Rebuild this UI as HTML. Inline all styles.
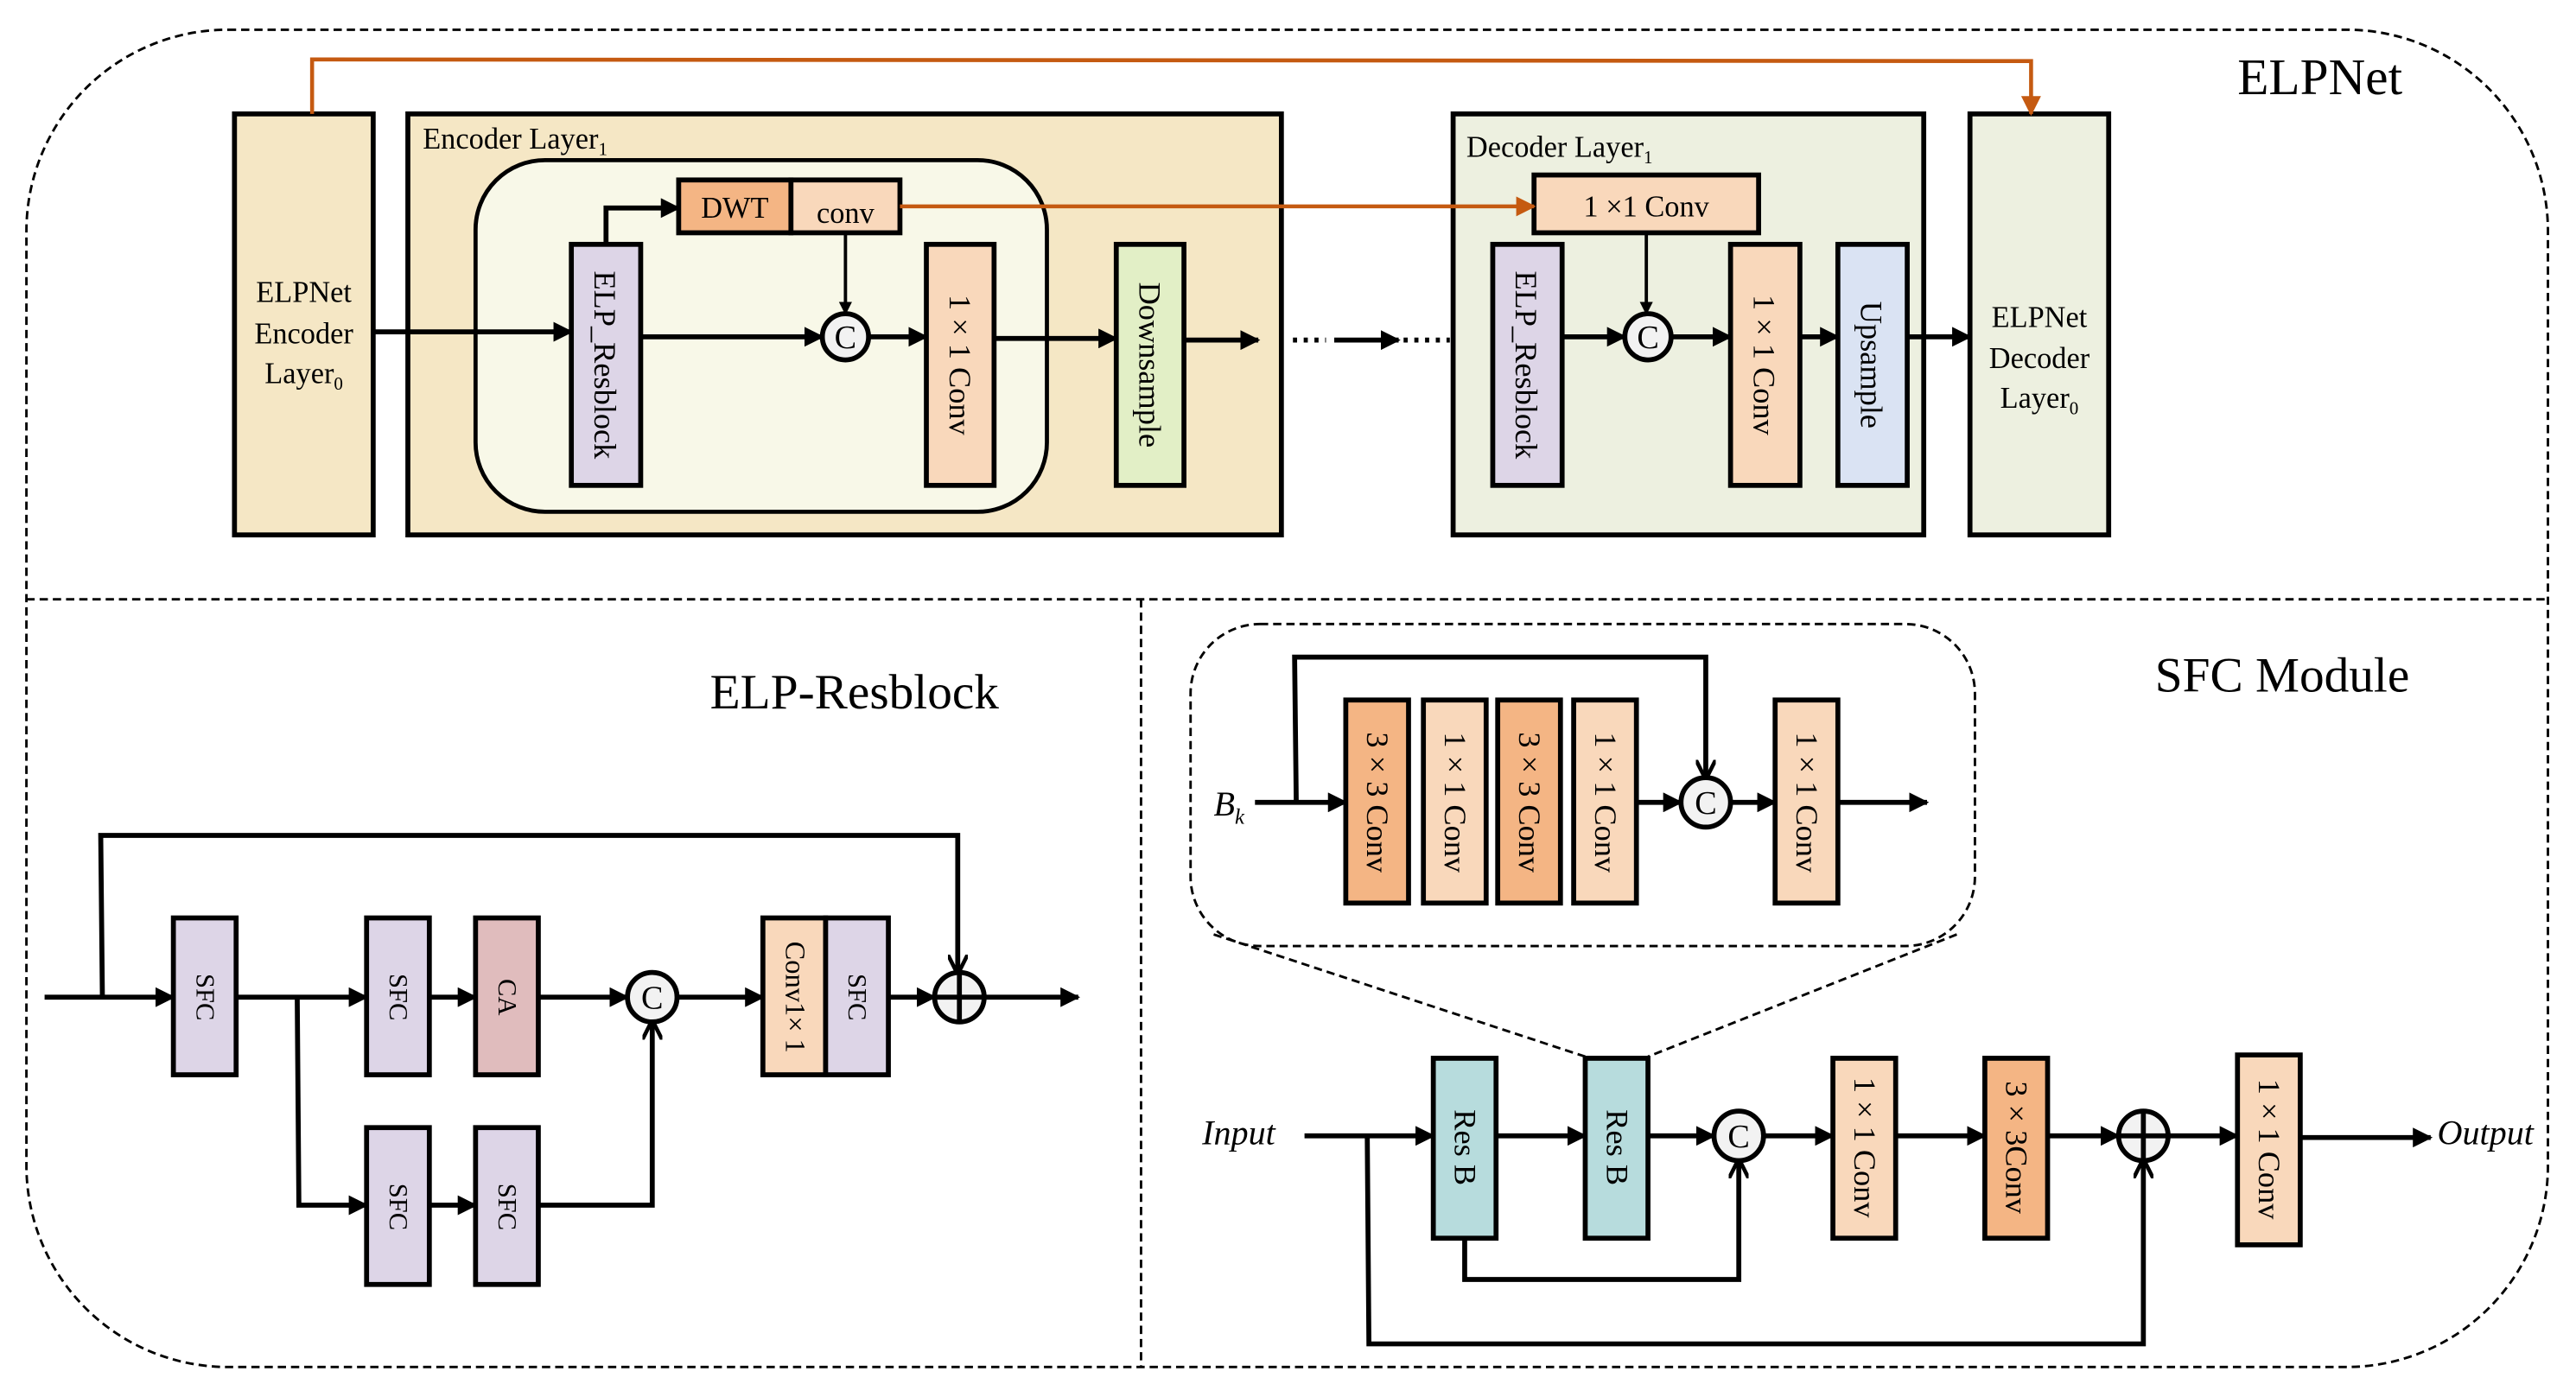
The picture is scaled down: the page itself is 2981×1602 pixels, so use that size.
<!DOCTYPE html>
<html><head><meta charset="utf-8"><style>
html,body{margin:0;padding:0;background:#fff;}
svg{display:block;}
text{font-family:"Liberation Serif",serif;fill:#000;}
</style></head><body>
<svg width="2981" height="1602" viewBox="0 0 1560 838.3" preserveAspectRatio="none" xmlns="http://www.w3.org/2000/svg">
<defs>
<marker id="a" viewBox="0 0 10 10" refX="9" refY="5" markerWidth="4" markerHeight="4" orient="auto" markerUnits="strokeWidth"><path d="M0,0 L10,5 L0,10 z" fill="#000"/></marker>
<marker id="o" viewBox="0 0 10 10" refX="9" refY="5" markerWidth="5" markerHeight="5" orient="auto" markerUnits="strokeWidth"><path d="M0,0 L10,5 L0,10 z" fill="#c55a11"/></marker>
<marker id="v" viewBox="0 0 10 10" refX="9" refY="5" markerWidth="4" markerHeight="4" orient="auto" markerUnits="strokeWidth"><path d="M0,0 L10,5 L0,10" fill="none" stroke="#000" stroke-width="2"/></marker>
</defs>

<rect x="16" y="18" width="1527" height="810" rx="122" ry="122" fill="none" stroke="#000" stroke-width="1.5" stroke-dasharray="5,3"/>
<line x1="16" y1="363" x2="1543" y2="363" stroke="#000" stroke-width="1.5" stroke-dasharray="5,3"/>
<line x1="691" y1="363" x2="691" y2="828" stroke="#000" stroke-width="1.5" stroke-dasharray="5,3"/>

<text x="1355" y="57" font-size="31">ELPNet</text>

<rect x="142" y="69" width="84" height="255" fill="#f5e7c5" stroke="#000" stroke-width="3"/>
<text x="184" y="183" font-size="18" text-anchor="middle">ELPNet</text>
<text x="184" y="208" font-size="18" text-anchor="middle">Encoder</text>
<text x="184" y="232" font-size="18" text-anchor="middle">Layer<tspan font-size="11" dy="4">0</tspan></text>

<rect x="247" y="69" width="529" height="255" fill="#f5e7c5" stroke="#000" stroke-width="3"/>
<text x="256" y="90" font-size="18">Encoder Layer<tspan font-size="11" dy="4">1</tspan></text>
<rect x="288" y="97" width="346" height="213" rx="42" fill="#f8f8e8" stroke="#000" stroke-width="2.5"/>
<rect x="411" y="109" width="68" height="32" fill="#f4b584" stroke="#000" stroke-width="3"/>
<rect x="479" y="109" width="66" height="32" fill="#f9d8bb" stroke="#000" stroke-width="3"/>
<text x="445" y="132" font-size="18" text-anchor="middle">DWT</text>
<text x="512" y="135" font-size="18" text-anchor="middle">conv</text>
<rect x="346" y="148" width="42" height="146" fill="#ddd5e7" stroke="#000" stroke-width="3"/>
<text transform="translate(360,221) rotate(90)" font-size="19" text-anchor="middle">ELP_Resblock</text>
<rect x="561" y="148" width="41" height="146" fill="#f9d8bb" stroke="#000" stroke-width="3"/>
<text transform="translate(575,221) rotate(90)" font-size="19" text-anchor="middle">1 × 1 Conv</text>
<rect x="676" y="148" width="41" height="146" fill="#e2efc6" stroke="#000" stroke-width="3"/>
<text transform="translate(690,221) rotate(90)" font-size="19" text-anchor="middle">Downsample</text>
<circle cx="512" cy="204" r="14" fill="#f2f2f2" stroke="#000" stroke-width="3"/>
<text x="512" y="211" font-size="20" text-anchor="middle">C</text>

<g stroke="#000" stroke-width="3" fill="none">
<line x1="226" y1="201" x2="346" y2="201" marker-end="url(#a)"/>
<line x1="388" y1="204" x2="498" y2="204" marker-end="url(#a)"/>
<line x1="526" y1="204" x2="561" y2="204" marker-end="url(#a)"/>
<line x1="602" y1="205" x2="676" y2="205" marker-end="url(#a)"/>
<line x1="717" y1="206" x2="762" y2="206" marker-end="url(#a)"/>
<polyline points="367,148 367,126 411,126" marker-end="url(#a)"/>
<line x1="512" y1="141" x2="512" y2="190" stroke-width="2" marker-end="url(#a)"/>
<line x1="783" y1="206" x2="803" y2="206" stroke-dasharray="2.5,4"/>
<line x1="808" y1="206" x2="847" y2="206" marker-end="url(#a)"/>
<line x1="850" y1="206" x2="878" y2="206" stroke-dasharray="2.5,4"/>
<line x1="880" y1="206" x2="904" y2="206" marker-end="url(#a)"/>
</g>

<rect x="880" y="69" width="285" height="255" fill="#edf0e0" stroke="#000" stroke-width="3"/>
<text x="888" y="95" font-size="18">Decoder Layer<tspan font-size="11" dy="4">1</tspan></text>
<rect x="929" y="106" width="136" height="35" fill="#f9d8bb" stroke="#000" stroke-width="3"/>
<text x="997" y="131" font-size="18" text-anchor="middle">1 ×1 Conv</text>
<rect x="904" y="148" width="42" height="146" fill="#ddd5e7" stroke="#000" stroke-width="3"/>
<text transform="translate(918,221) rotate(90)" font-size="19" text-anchor="middle">ELP_Resblock</text>
<rect x="1048" y="148" width="42" height="146" fill="#f9d8bb" stroke="#000" stroke-width="3"/>
<text transform="translate(1062,221) rotate(90)" font-size="19" text-anchor="middle">1 × 1 Conv</text>
<rect x="1113" y="148" width="42" height="146" fill="#dae3f3" stroke="#000" stroke-width="3"/>
<text transform="translate(1127,221) rotate(90)" font-size="19" text-anchor="middle">Upsample</text>
<circle cx="998" cy="204" r="14" fill="#f2f2f2" stroke="#000" stroke-width="3"/>
<text x="998" y="211" font-size="20" text-anchor="middle">C</text>
<rect x="1193" y="69" width="84" height="255" fill="#edf0e0" stroke="#000" stroke-width="3"/>
<text x="1235" y="198" font-size="18" text-anchor="middle">ELPNet</text>
<text x="1235" y="223" font-size="18" text-anchor="middle">Decoder</text>
<text x="1235" y="247" font-size="18" text-anchor="middle">Layer<tspan font-size="11" dy="4">0</tspan></text>
<g stroke="#000" stroke-width="3" fill="none">
<line x1="946" y1="204" x2="984" y2="204" marker-end="url(#a)"/>
<line x1="997" y1="141" x2="997" y2="190" stroke-width="2" marker-end="url(#a)"/>
<line x1="1012" y1="204" x2="1048" y2="204" marker-end="url(#a)"/>
<line x1="1090" y1="204" x2="1113" y2="204" marker-end="url(#a)"/>
<line x1="1155" y1="204" x2="1193" y2="204" marker-end="url(#a)"/>
</g>
<g stroke="#c55a11" stroke-width="2.4" fill="none">
<polyline points="189,69 189,36 1230,37 1230,69" marker-end="url(#o)"/>
<line x1="545" y1="125" x2="929" y2="125" marker-end="url(#o)"/>
</g>

<text x="430" y="429" font-size="30">ELP-Resblock</text>
<g stroke="#000" stroke-width="3" fill="none">
<line x1="27" y1="604" x2="105" y2="604" marker-end="url(#a)"/>
<polyline points="62,604 61,506 580,506 580,589" marker-end="url(#v)"/>
<line x1="143" y1="604" x2="222" y2="604" marker-end="url(#a)"/>
<polyline points="180,604 181,730 222,730" marker-end="url(#a)"/>
<line x1="260" y1="604" x2="288" y2="604" marker-end="url(#a)"/>
<line x1="326" y1="604" x2="380" y2="604" marker-end="url(#a)"/>
<line x1="410" y1="604" x2="462" y2="604" marker-end="url(#a)"/>
<line x1="260" y1="730" x2="288" y2="730" marker-end="url(#a)"/>
<polyline points="326,730 395,730 395,619" marker-end="url(#v)"/>
<line x1="538" y1="604" x2="566" y2="604" marker-end="url(#a)"/>
<line x1="596" y1="604" x2="653" y2="604" marker-end="url(#a)"/>
</g>
<g stroke="#000" stroke-width="3">
<rect x="105" y="556" width="38" height="95" fill="#ddd5e7"/>
<rect x="222" y="556" width="38" height="95" fill="#ddd5e7"/>
<rect x="288" y="556" width="38" height="95" fill="#e0bcbd"/>
<rect x="462" y="556" width="38" height="95" fill="#f9d8bb"/>
<rect x="500" y="556" width="38" height="95" fill="#ddd5e7"/>
<rect x="222" y="683" width="38" height="95" fill="#ddd5e7"/>
<rect x="288" y="683" width="38" height="95" fill="#ddd5e7"/>
<circle cx="395" cy="604" r="15" fill="#f2f2f2"/>
<circle cx="581" cy="604" r="15" fill="#f2f2f2"/>
<line x1="566" y1="604" x2="596" y2="604"/>
<line x1="581" y1="589" x2="581" y2="619"/>
</g>
<text x="395" y="611" font-size="20" text-anchor="middle">C</text>
<g font-size="16" text-anchor="middle">
<text transform="translate(119,604) rotate(90)">SFC</text>
<text transform="translate(236,604) rotate(90)">SFC</text>
<text transform="translate(302,604) rotate(90)">CA</text>
<text transform="translate(476,604) rotate(90)" font-size="17">Conv1× 1</text>
<text transform="translate(514,604) rotate(90)">SFC</text>
<text transform="translate(236,731) rotate(90)">SFC</text>
<text transform="translate(302,731) rotate(90)">SFC</text>
</g>

<text x="1305" y="419" font-size="30">SFC Module</text>
<rect x="721" y="378" width="475" height="195" rx="42" fill="none" stroke="#000" stroke-width="1.5" stroke-dasharray="5,3"/>
<line x1="735" y1="566" x2="960" y2="640" stroke="#000" stroke-width="1.5" stroke-dasharray="5,3"/>
<line x1="1185" y1="566" x2="998" y2="640" stroke="#000" stroke-width="1.5" stroke-dasharray="5,3"/>
<text x="735" y="494" font-size="21" font-style="italic">B<tspan font-size="13" dy="5">k</tspan></text>
<g stroke="#000" stroke-width="3" fill="none">
<line x1="760" y1="486" x2="815" y2="486" marker-end="url(#a)"/>
<polyline points="785,486 784,398 1033,398 1033,471" marker-end="url(#v)"/>
<line x1="991" y1="486" x2="1018" y2="486" marker-end="url(#a)"/>
<line x1="1048" y1="486" x2="1075" y2="486" marker-end="url(#a)"/>
<line x1="1113" y1="486" x2="1167" y2="486" marker-end="url(#a)"/>
</g>
<g stroke="#000" stroke-width="3">
<rect x="815" y="424" width="38" height="123" fill="#f4b584"/>
<rect x="862" y="424" width="38" height="123" fill="#f9d8bb"/>
<rect x="907" y="424" width="38" height="123" fill="#f4b584"/>
<rect x="953" y="424" width="38" height="123" fill="#f9d8bb"/>
<rect x="1075" y="424" width="38" height="123" fill="#f9d8bb"/>
<circle cx="1033" cy="486" r="15" fill="#f2f2f2"/>
</g>
<text x="1033" y="493" font-size="20" text-anchor="middle">C</text>
<g font-size="19" text-anchor="middle">
<text transform="translate(828,486) rotate(90)">3 × 3 Conv</text>
<text transform="translate(875,486) rotate(90)">1 × 1 Conv</text>
<text transform="translate(920,486) rotate(90)">3 × 3 Conv</text>
<text transform="translate(966,486) rotate(90)">1 × 1 Conv</text>
<text transform="translate(1088,486) rotate(90)">1 × 1 Conv</text>
</g>

<text x="728" y="693" font-size="21" font-style="italic">Input</text>
<text x="1476" y="693" font-size="21" font-style="italic">Output</text>
<g stroke="#000" stroke-width="3" fill="none">
<line x1="790" y1="688" x2="868" y2="688" marker-end="url(#a)"/>
<polyline points="828,688 829,814 1298,814 1298,703" marker-end="url(#v)"/>
<line x1="906" y1="688" x2="960" y2="688" marker-end="url(#a)"/>
<line x1="998" y1="688" x2="1038" y2="688" marker-end="url(#a)"/>
<polyline points="887,750 887,775 1053,775 1053,703" marker-end="url(#v)"/>
<line x1="1068" y1="688" x2="1110" y2="688" marker-end="url(#a)"/>
<line x1="1148" y1="688" x2="1202" y2="688" marker-end="url(#a)"/>
<line x1="1240" y1="688" x2="1283" y2="688" marker-end="url(#a)"/>
<line x1="1313" y1="688" x2="1355" y2="688" marker-end="url(#a)"/>
<line x1="1393" y1="689" x2="1472" y2="689" marker-end="url(#a)"/>
</g>
<g stroke="#000" stroke-width="3">
<rect x="868" y="641" width="38" height="109" fill="#b7dcdd"/>
<rect x="960" y="641" width="38" height="109" fill="#b7dcdd"/>
<rect x="1110" y="641" width="38" height="109" fill="#f9d8bb"/>
<rect x="1202" y="641" width="38" height="109" fill="#f4b584"/>
<rect x="1355" y="639" width="38" height="115" fill="#f9d8bb"/>
<circle cx="1053" cy="688" r="15" fill="#f2f2f2"/>
<circle cx="1298" cy="688" r="15" fill="#f2f2f2"/>
<line x1="1283" y1="688" x2="1313" y2="688"/>
<line x1="1298" y1="673" x2="1298" y2="703"/>
</g>
<text x="1053" y="695" font-size="20" text-anchor="middle">C</text>
<g font-size="19" text-anchor="middle">
<text transform="translate(881,695) rotate(90)">Res B</text>
<text transform="translate(973,695) rotate(90)">Res B</text>
<text transform="translate(1123,695) rotate(90)">1 × 1 Conv</text>
<text transform="translate(1215,695) rotate(90)">3 × 3Conv</text>
<text transform="translate(1368,696) rotate(90)">1 × 1 Conv</text>
</g>
</svg>
</body></html>
